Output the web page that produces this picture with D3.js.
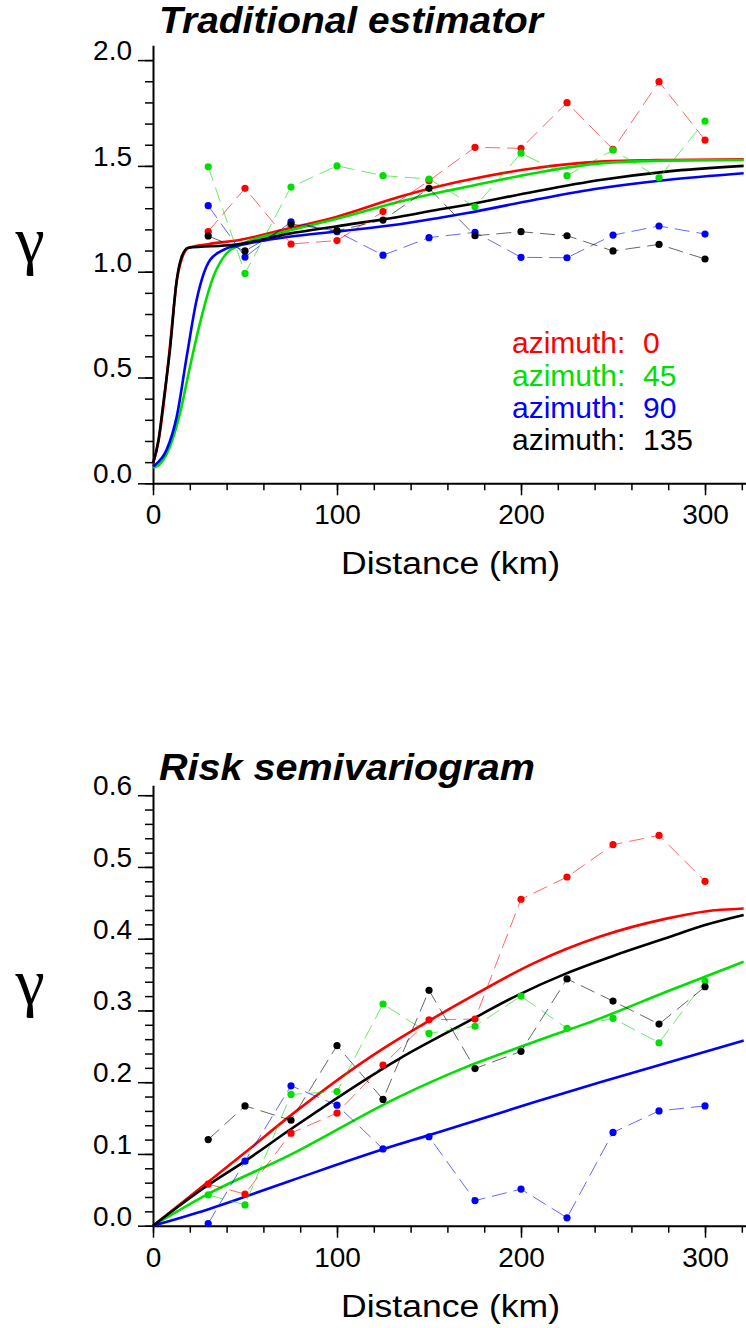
<!DOCTYPE html>
<html>
<head>
<meta charset="utf-8">
<script src="https://cdn.jsdelivr.net/npm/d3@7"></script>
<style>
  body { margin: 0; background: #fff; }
  text { font-family: "Liberation Sans", Arial, sans-serif; }
</style>
</head>
<body>
<div id="chart"></div>
<script>
// lag distances (km) of the experimental semivariogram
var lags = [30, 50, 75, 100, 125, 150, 175, 200, 225, 250, 275, 300];
var azimuths = ["0", "45", "90", "135"];
var seriesColors = ["#ff0000", "#00e000", "#0000ff", "#000000"];

// Traditional estimator - experimental values per azimuth
var tradAz0   = [1.19, 1.394, 1.131, 1.147, 1.284, 1.43, 1.588, 1.583, 1.799, 1.578, 1.898, 1.622];
var tradAz45  = [1.496, 0.992, 1.40, 1.50, 1.454, 1.438, 1.307, 1.56, 1.454, 1.575, 1.444, 1.712];
var tradAz90  = [1.312, 1.069, 1.236, 1.189, 1.078, 1.161, 1.186, 1.068, 1.066, 1.173, 1.216, 1.178];
var tradAz135 = [1.169, 1.098, 1.225, 1.194, 1.244, 1.394, 1.170, 1.189, 1.170, 1.098, 1.129, 1.060];

// Traditional estimator - fitted models [distance, gamma]
var tradFit0 = [[0, 0.09], [3, 0.2], [6, 0.39], [9, 0.63], [13, 0.96], [16, 1.07], [19.5, 1.113], [30, 1.13],
  [47, 1.15], [74, 1.205], [100, 1.26], [134, 1.354], [156, 1.405], [170, 1.432], [207, 1.489], [243, 1.52], [279, 1.528], [321, 1.531]];
var tradFit45 = [[0, 0.075], [1.6, 0.078], [9.2, 0.173], [14.7, 0.331], [20.1, 0.551], [25.5, 0.756], [32.8, 0.976], [40, 1.087],
  [47.3, 1.126], [74, 1.195], [100, 1.25], [134, 1.331], [156, 1.375], [170, 1.40], [207, 1.465], [243, 1.512], [279, 1.525], [321, 1.528]];
var tradFit90 = [[0, 0.08], [1, 0.086], [7.4, 0.158], [12.9, 0.315], [18.3, 0.598], [23.7, 0.866], [31, 1.055], [40, 1.11],
  [47, 1.125], [74, 1.165], [100, 1.19], [134, 1.224], [156, 1.255], [170, 1.276], [207, 1.339], [243, 1.394], [279, 1.433], [321, 1.465]];
var tradFit135 = [[0, 0.095], [3, 0.205], [5.6, 0.378], [9.2, 0.63], [12.9, 0.961], [15.6, 1.071], [19.2, 1.113], [44, 1.127],
  [74, 1.18], [100, 1.215], [134, 1.26], [156, 1.295], [170, 1.315], [207, 1.378], [243, 1.433], [279, 1.473], [321, 1.50]];

// Risk semivariogram - experimental values per azimuth
var riskAz0   = [0.058, 0.044, 0.129, 0.157, 0.224, 0.287, 0.288, 0.455, 0.486, 0.531, 0.544, 0.480];
var riskAz45  = [0.043, 0.029, 0.183, 0.187, 0.309, 0.268, 0.278, 0.320, 0.275, 0.289, 0.255, 0.341];
var riskAz90  = [0.003, 0.090, 0.195, 0.168, 0.107, 0.124, 0.035, 0.051, 0.011, 0.130, 0.160, 0.167];
var riskAz135 = [0.120, 0.167, 0.147, 0.251, 0.176, 0.328, 0.219, 0.243, 0.344, 0.313, 0.281, 0.333];

// Risk semivariogram - fitted models [distance, gamma]
var riskFit0 = [[0, 0], [29, 0.059], [50, 0.102], [74, 0.152], [124, 0.245], [134, 0.261], [170, 0.315], [207, 0.366], [243, 0.403], [279, 0.428], [300, 0.438], [321, 0.442]];
var riskFit45 = [[0, 0], [29, 0.043], [74, 0.098], [134, 0.180], [170, 0.221], [207, 0.256], [243, 0.289], [279, 0.326], [321, 0.368]];
var riskFit90 = [[0, 0], [29, 0.022], [74, 0.062], [125, 0.1065], [156, 0.131], [207, 0.172], [243, 0.200], [321, 0.258]];
var riskFit135 = [[0, 0], [29, 0.055], [50, 0.09], [74, 0.133], [134, 0.233], [170, 0.283], [198, 0.321], [225, 0.352], [250, 0.376], [279, 0.401], [300, 0.419], [321, 0.433]];

var xTicks = [0, 100, 200, 300];
var tradYTicks = [0, 0.5, 1.0, 1.5, 2.0];
var riskYTicks = [0, 0.1, 0.2, 0.3, 0.4, 0.5, 0.6];

var width = 746, height = 1328;

var svg = d3.select("#chart")
  .append("svg")
  .attr("width", width)
  .attr("height", height);

var x = d3.scaleLinear().domain([0, 322]).range([153, 745.5]);

function drawPanel(opt) {
  var g = svg.append("g");
  var y = d3.scaleLinear().domain(opt.yDomain).range(opt.yRange);

  // minor ticks
  g.append("g")
    .attr("transform", "translate(" + x(0) + ",0)")
    .call(d3.axisLeft(y).tickValues(d3.range(0, opt.yMinorMax + 1e-9, opt.yMinorStep)).tickSize(8).tickSizeOuter(0).tickFormat(""))
    .call(function (a) { a.select(".domain").remove(); a.selectAll("line").attr("stroke-width", 1.5); });
  g.append("g")
    .attr("transform", "translate(0," + y(0) + ")")
    .call(d3.axisBottom(x).tickValues(d3.range(0, 321, 20)).tickSize(7).tickSizeOuter(0).tickFormat(""))
    .call(function (a) { a.select(".domain").remove(); a.selectAll("line").attr("stroke-width", 1.5); });

  // major ticks + labels
  var yAxis = g.append("g")
    .attr("transform", "translate(" + x(0) + ",0)")
    .call(d3.axisLeft(y).tickValues(opt.yTicks).tickSize(15).tickSizeOuter(0).tickPadding(6).tickFormat(d3.format(".1f")));
  yAxis.select(".domain").attr("stroke-width", 2);
  yAxis.selectAll("line").attr("stroke-width", 1.5);
  yAxis.selectAll("text").attr("dy", "-0.02em").attr("font-size", 28).attr("fill", "#000")
    .style("font-family", "'Liberation Sans', Arial, sans-serif");

  var xAxis = g.append("g")
    .attr("transform", "translate(0," + y(0) + ")")
    .call(d3.axisBottom(x).tickValues(xTicks).tickSize(12).tickSizeOuter(0).tickFormat(d3.format("d")));
  xAxis.select(".domain").attr("stroke-width", 2);
  xAxis.selectAll("line").attr("stroke-width", 1.5);
  xAxis.selectAll("text").attr("y", 41).attr("dy", 0).attr("font-size", 28).attr("fill", "#000")
    .style("font-family", "'Liberation Sans', Arial, sans-serif");

  // title
  g.append("text")
    .attr("x", 159)
    .attr("y", opt.titleY)
    .attr("font-size", 36)
    .attr("font-weight", "bold")
    .attr("font-style", "italic")
    .attr("textLength", opt.titleLen)
    .attr("lengthAdjust", "spacingAndGlyphs")
    .text(opt.title);

  // axis labels
  g.append("text")
    .attr("x", 341)
    .attr("y", y(0) + 91)
    .attr("font-size", 31)
    .attr("textLength", 219)
    .attr("lengthAdjust", "spacingAndGlyphs")
    .text("Distance (km)");

  g.append("text")
    .attr("x", 30)
    .attr("y", opt.gammaY)
    .attr("text-anchor", "middle")
    .attr("font-size", 66)
    .style("font-family", "'Liberation Serif', 'Times New Roman', serif")
    .text("\u03b3");

  // fitted models
  var fitLine = d3.line()
    .x(function (d) { return x(d[0]); })
    .y(function (d) { return y(d[1]); })
    .curve(d3.curveMonotoneX);

  opt.fits.forEach(function (fit, i) {
    g.append("path")
      .attr("d", fitLine(fit))
      .attr("fill", "none")
      .attr("stroke", seriesColors[i])
      .attr("stroke-width", 2.6);
  });

  // experimental points with dashed connectors
  var expLine = d3.line()
    .x(function (d, j) { return x(lags[j]); })
    .y(function (d) { return y(d); });

  opt.series.forEach(function (vals, i) {
    g.append("path")
      .attr("d", expLine(vals))
      .attr("fill", "none")
      .attr("stroke", seriesColors[i])
      .attr("stroke-opacity", 0.6)
      .attr("stroke-width", 1)
      .attr("stroke-dasharray", "15,7");

    g.selectAll(null)
      .data(vals)
      .enter()
      .append("circle")
      .attr("cx", function (d, j) { return x(lags[j]); })
      .attr("cy", function (d) { return y(d); })
      .attr("r", 3.6)
      .attr("fill", seriesColors[i]);
  });

  return g;
}

var topPanel = drawPanel({
  title: "Traditional estimator",
  titleY: 33,
  titleLen: 384,
  yDomain: [0, 2.07],
  yRange: [483.3, 483.3 - 2.07 * 211.6],
  yTicks: tradYTicks,
  yMinorStep: 0.1,
  yMinorMax: 2.0,
  gammaY: 262,
  fits: [tradFit0, tradFit45, tradFit90, tradFit135],
  series: [tradAz0, tradAz45, tradAz90, tradAz135]
});

drawPanel({
  title: "Risk semivariogram",
  titleY: 780,
  titleLen: 376,
  yDomain: [0, 0.614],
  yRange: [1225.7, 1225.7 - 0.614 * 717.5],
  yTicks: riskYTicks,
  yMinorStep: 0.02,
  yMinorMax: 0.6,
  gammaY: 1004,
  fits: [riskFit0, riskFit45, riskFit90, riskFit135],
  series: [riskAz0, riskAz45, riskAz90, riskAz135]
});

// legend (top panel only)
var legend = topPanel.append("g").attr("font-size", 30);
azimuths.forEach(function (az, i) {
  var row = legend.append("text")
    .attr("y", 353.3 + i * 32.2)
    .attr("fill", seriesColors[i]);
  row.append("tspan").attr("x", 512).text("azimuth:");
  row.append("tspan").attr("x", 643).text(az);
});
</script>
</body>
</html>
